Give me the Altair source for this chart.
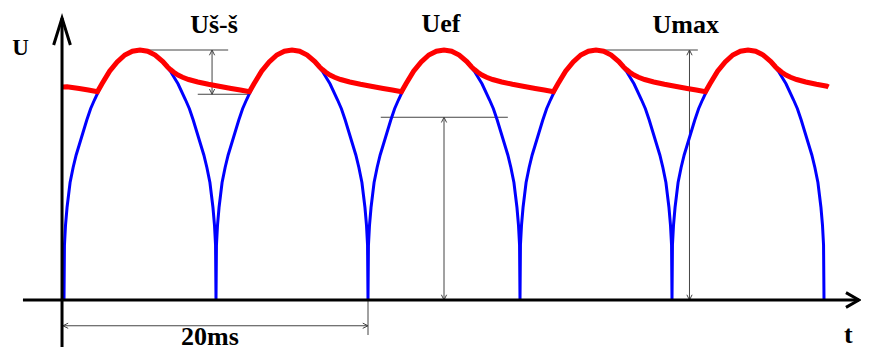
import altair as alt
import pandas as pd

# ---- data -----------------------------------------------------------------
# one half-wave arch of the rectified voltage (u = fraction of 10 ms, h = fraction of Umax)
arch_u = [0.0, 0.003, 0.01, 0.02, 0.03, 0.04, 0.06, 0.08, 0.10, 0.125, 0.15, 0.175,
          0.20, 0.25, 0.30, 0.35, 0.40, 0.45, 0.50, 0.55, 0.60, 0.65, 0.70, 0.75,
          0.80, 0.825, 0.85, 0.875, 0.90, 0.92, 0.94, 0.96, 0.97, 0.98, 0.99, 0.997, 1.0]
arch_h = [0.0, 0.22, 0.30, 0.37, 0.42, 0.47, 0.53, 0.58, 0.62, 0.67, 0.72, 0.765,
          0.80, 0.865, 0.915, 0.952, 0.98, 0.995, 1.0, 0.995, 0.98, 0.952, 0.915, 0.865,
          0.80, 0.765, 0.72, 0.67, 0.62, 0.58, 0.53, 0.47, 0.42, 0.37, 0.30, 0.22, 0.0]
n_arches = 5
half_period_ms = 10.0

# filtered (capacitor) voltage over one arch
red_u = [0.22, 0.25, 0.30, 0.35, 0.40, 0.45, 0.50, 0.55, 0.60, 0.65, 0.68, 0.70,
         0.72, 0.75, 0.78, 0.82, 0.88, 0.95, 1.02, 1.10, 1.16, 1.22]
red_h = [0.833, 0.865, 0.915, 0.952, 0.98, 0.995, 1.0, 0.995, 0.98, 0.954, 0.933, 0.922,
         0.912, 0.90, 0.891, 0.882, 0.872, 0.863, 0.855, 0.846, 0.84, 0.833]
red_start_t = [-0.07, 0.2, 1.0, 1.6]
red_start_h = [0.852, 0.853, 0.846, 0.84]
red_end_u = 1.03
red_end_h = 0.852

# measurement lines
hline_t1 = [4.8, 8.8, 20.84, 34.9]
hline_t2 = [10.8, 12.1, 29.2, 41.7]
hline_h = [1.0, 0.823, 0.731, 1.0]
varrow_t = [9.74, 25.0, 41.15]
varrow_lo = [0.823, 0.0, 0.0]
varrow_hi = [1.0, 0.731, 1.0]
period_arrow_t = [-0.07, 20.0]
period_arrow_h = -0.103
period_tick_h = [0.0, -0.14]

# axes
yaxis_t = -0.13
yaxis_h = [-0.188, 1.128]
xaxis_t = [-2.7, 52.3]

# labels
label_text = ["U", "Uš-š", "Uef", "Umax", "20ms", "t"]
label_t = [-2.86, 9.87, 24.8, 40.9, 9.6, 51.6]
label_h = [0.98, 1.068, 1.072, 1.068, -0.178, -0.172]
label_size = [23, 26, 26, 26, 26, 26]

# ---- tables ------------------------------------------------------------------
blue_rows = []
i = 0
for k in range(n_arches):
    for u, h in zip(arch_u, arch_h):
        blue_rows.append({"i": i, "t": (k + u) * half_period_ms, "h": h})
        i += 1
blue = pd.DataFrame(blue_rows)

red_rows = []
i = 0
for t, h in zip(red_start_t, red_start_h):
    red_rows.append({"i": i, "t": t, "h": h}); i += 1
for k in range(n_arches):
    for u, h in zip(red_u, red_h):
        if k == n_arches - 1 and u > red_end_u:
            break
        red_rows.append({"i": i, "t": (k + u) * half_period_ms, "h": h}); i += 1
red_rows.append({"i": i, "t": (n_arches - 1 + red_end_u) * half_period_ms, "h": red_end_h})
red = pd.DataFrame(red_rows)

seg_rows = []
for a, b, h in zip(hline_t1, hline_t2, hline_h):
    seg_rows.append({"t": a, "t2": b, "h": h, "h2": h})
for t, lo, hi in zip(varrow_t, varrow_lo, varrow_hi):
    seg_rows.append({"t": t, "t2": t, "h": lo, "h2": hi})
seg_rows.append({"t": period_arrow_t[0], "t2": period_arrow_t[1], "h": period_arrow_h, "h2": period_arrow_h})
seg_rows.append({"t": period_arrow_t[1], "t2": period_arrow_t[1], "h": period_tick_h[0], "h2": period_tick_h[1]})
segs = pd.DataFrame(seg_rows)

head_rows = []
for t, lo, hi in zip(varrow_t, varrow_lo, varrow_hi):
    head_rows.append({"t": t, "h": hi, "angle": 270})
    head_rows.append({"t": t, "h": lo, "angle": 90})
head_rows.append({"t": period_arrow_t[0], "h": period_arrow_h, "angle": 180})
head_rows.append({"t": period_arrow_t[1], "h": period_arrow_h, "angle": 0})
heads = pd.DataFrame(head_rows)

axes = pd.DataFrame([
    {"t": yaxis_t, "t2": yaxis_t, "h": yaxis_h[0], "h2": yaxis_h[1]},
    {"t": xaxis_t[0], "t2": xaxis_t[1], "h": 0.0, "h2": 0.0},
])
yhead = pd.DataFrame([{"t": yaxis_t, "h": yaxis_h[1], "angle": 270}])
xhead = pd.DataFrame([{"t": xaxis_t[1], "h": 0.0, "angle": 0}])

labels = pd.DataFrame({"text": label_text, "t": label_t, "h": label_h, "size": label_size})

# ---- chart -------------------------------------------------------------------
XS = alt.Scale(domain=[-3.6842, 52.434], nice=False, zero=False)
YS = alt.Scale(domain=[-0.2, 1.168], nice=False, zero=False)


def X(f="t"):
    return alt.X(f, type="quantitative", scale=XS, axis=None)


def Y(f="h"):
    return alt.Y(f, type="quantitative", scale=YS, axis=None)


blue_line = alt.Chart(blue).mark_line(color="#0000FF", strokeWidth=3).encode(
    x=X(), y=Y(), order="i:Q")
red_line = alt.Chart(red).mark_line(color="#FF0000", strokeWidth=5).encode(
    x=X(), y=Y(), order="i:Q")

seg_layer = alt.Chart(segs).mark_rule(color="#444444", strokeWidth=1).encode(
    x=X(), x2="t2:Q", y=Y(), y2="h2:Q")

head_layer = alt.Chart(heads).mark_point(
    shape="M -1 -0.5 L 0 0 L -1 0.5", filled=False, color="#444444",
    strokeWidth=1, size=110, opacity=1).encode(
    x=X(), y=Y(), angle=alt.Angle("angle:Q", scale=None))

axis_layer = alt.Chart(axes).mark_rule(color="black", strokeWidth=3).encode(
    x=X(), x2="t2:Q", y=Y(), y2="h2:Q")

yhead_layer = alt.Chart(yhead).mark_point(
    shape="M -1 -0.31 L 0 0 L -1 0.31", filled=False, color="black",
    strokeWidth=3, size=2916, opacity=1).encode(
    x=X(), y=Y(), angle=alt.Angle("angle:Q", scale=None))

xhead_layer = alt.Chart(xhead).mark_point(
    shape="M -1 -0.57 L 0 0 L -1 0.57", filled=False, color="black",
    strokeWidth=3, size=676, opacity=1).encode(
    x=X(), y=Y(), angle=alt.Angle("angle:Q", scale=None))

text_layer = alt.Chart(labels).mark_text(
    font="Liberation Serif", fontWeight="bold", align="center",
    baseline="alphabetic", color="black").encode(
    x=X(), y=Y(), text="text:N", size=alt.Size("size:Q", scale=None))

chart = alt.layer(
    seg_layer, head_layer, blue_line, red_line, axis_layer, yhead_layer,
    xhead_layer, text_layer
).properties(
    width=853, height=342,
    autosize=alt.AutoSizeParams(type="none"),
    padding={"left": 0, "right": 0, "top": 0, "bottom": 0},
).configure_view(strokeWidth=0)

chart.save("out.html", embed_options={"renderer": "svg", "actions": False})
